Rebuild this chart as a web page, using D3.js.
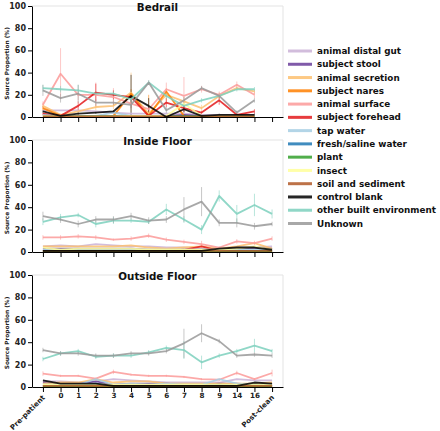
<!DOCTYPE html>
<html><head><meta charset="utf-8">
<script src="https://cdn.jsdelivr.net/npm/d3@7"></script>
<style>body{margin:0;background:#fff}svg{display:block}text{font-family:"DejaVu Sans",sans-serif;font-weight:bold}</style>
</head><body>
<script>
const categories = ["Pre-patient","0","1","2","3","4","5","6","7","8","9","14","16","Post-clean"];
const seriesNames = ["animal distal gut","subject stool","animal secretion","subject nares","animal surface","subject forehead","tap water","fresh/saline water","plant","insect","soil and sediment","control blank","other built environment","Unknown"];
const seriesColors = ["#cab2d6","#6a3d9a","#fdbf6f","#ff7f00","#fb9a99","#e31a1c","#a6cee3","#1f78b4","#33a02c","#ffff99","#b15928","#000000","#7dd0bd","#999999"];
const panelTitles = ["Bedrail","Inside Floor","Outside Floor"];
const yTicks = [0,20,40,60,80,100];

const bedrailValues = [
  [6,6,6,5,4,3,3,3,3,2,2,2,2],
  [2,1,1,1,1,1,1,1,2,1,1,1,1],
  [10,2,5,9,10,22,3,20,14,8,19,26,23],
  [8,1,1,1,1,21,1,23,1,1,1,1,1],
  [11,39,20,20,18,12,7,25,19,25,20,29,20],
  [3,1,10,22,20,18,1,13,8,4,15,2,5],
  [2,1,1,1,4,1,1,1,1,1,1,1,1],
  [1,1,1,1,1,1,1,1,1,1,1,1,1],
  [0.5,0.5,0.5,0.5,0.5,0.5,0.5,0.5,0.5,0.5,0.5,0.5,0.5],
  [1,0.5,0.5,0.5,0.5,1,1,1,12,1,1,1,1],
  [0.5,0.5,0.5,0.5,0.5,0.5,0.5,0.5,0.5,0.5,0.5,0.5,0.5],
  [5,1,3,4,5,19,10,0,7,1,2,2,2],
  [26,25,24,21,21,16,31,19,10,15,19,25,25],
  [24,17,21,13,13,11,31,6,15,26,19,4,15]
];
const insideValues = [
  [5,6,5,7,6,5,5,4,4,3,3,4,4,5],
  [3,3,3,3,3,3,2,2,2,2,2,3,4,3],
  [5,5,5,5,5,6,4,3,4,5,3,5,8,3],
  [1,1,1,1,1,1,1,1,1,1,1,1,1,1],
  [13,13,14,13,11,12,14.5,11,9,7,4,9.5,8,12],
  [1,1,1,1,1,1,1,1,2,5,1,1,1,1],
  [2,2,2,2,2,2,2,2,2,2,2,2,2,2],
  [1,1,1,1,1,1,1,1,1,1,1,1,1,1],
  [0.5,0.5,0.5,0.5,0.5,0.5,0.5,0.5,0.5,0.5,0.5,0.5,0.5,0.5],
  [4,2,3,3,3,3,2,2,2,2,2,3,5,2],
  [1,1,1,1,1,1,1,1,1,1,1,1,1,1],
  [1,1,1,1,1,1,1,1,1,1,3,4,4,2],
  [27,31,33,25,28,28,27,38,29,20,50,34,42,34],
  [32,29,25,29,29,32,28,29,38,45,26,26,23,25]
];
const outsideValues = [
  [5,5,4,5,7,6,5,4,4,4,4,7,6,6],
  [4,3,3,5,2,3,3,3,2,2,3,3,2,3],
  [3,4,4,7,4,5,5,3,3,3,3,3,3,4],
  [1,1,1,1,1,1,1,1,1,1,1,1,1,1],
  [12,10,10,7.5,13.5,11,10,10,9,7,6.5,12.5,7,12.5],
  [1,1,1,1,1,1,1,1,1,1,1,1,1,1],
  [2,2,2,7,2,3,2,3,2,2,7,3,2,2],
  [1,1,1,3,1,1,1,1,1,1,2,1,2,1],
  [0.5,0.5,0.5,0.5,0.5,0.5,0.5,0.5,0.5,0.5,0.5,0.5,0.5,0.5],
  [2,2,2,2,2,2,2,2,2,2,2,2,2,2],
  [1,1,1,1,1,1,1,1,1,1,1,1,1,1],
  [6,3,3,3,1,1,1,1,1,1,1,1,4,3],
  [25,30,32,27,28,28,31,35,33,22,28,32,37,32],
  [33,30,30,28,28,30,30,32,39,48,41,28,29,28]
];
// error bar half-lengths (null = not drawn)
const bedrailErrors = [
  null,null,
  [2,1,2,3,3,18,2,6,4,3,3,2,2],
  [2,0.5,0.5,0.5,0.5,4,19,0.5,0.5,0.5,0.5,0.5,0.5],
  [3,23,5,11,8,4,2,6,17,3,3,3,3],
  [1,1,4,8,4,3,1,4,3,1,4,1,2],
  null,null,null,null,null,
  [1,1,1,1,1,19,7,1,3,1,1,1,1],
  [3,3,5,2,2,2,2,3,2,2,2,2,2],
  [5,4,8,3,3,3,2,3,3,2,2,2,2]
];
const insideErrors = [
  null,null,null,null,
  [2,2,2,2,1,2,2,2,2,3,1,2,2,2],
  null,null,null,null,null,null,null,
  [3,3,2,3,3,2,2,5,3,4,5,8,10,4],
  [4,3,3,3,3,3,3,3,11,13,3,4,3,2]
];
const outsideErrors = [
  null,null,null,null,
  [2,1,1,1,2,1,1,1,1,1,1,2,1,3],
  null,null,null,null,null,null,null,
  [2,2,2,2,2,2,2,2,8,6,2,2,6,2],
  [2,2,2,2,2,2,2,2,13,8,2,2,2,2]
];

const panelValues = [bedrailValues, insideValues, outsideValues];
const panelErrors = [bedrailErrors, insideErrors, outsideErrors];
const panelBoxes = [[6,117],[140,252],[275,387]];
const left = 32, right = 283;

const svg = d3.select("body").append("svg").attr("width",440).attr("height",431);
const x = d3.scalePoint().domain(categories).range([left,right]).padding(0.62);

panelValues.forEach((vals, p) => {
  const [top, bottom] = panelBoxes[p];
  const y = d3.scaleLinear().domain([0,100]).range([bottom, top]);
  const g = svg.append("g");
  g.append("line").attr("x1",left).attr("x2",right).attr("y1",top).attr("y2",top).attr("stroke","#e3e3e3").attr("stroke-width",1);
  g.append("line").attr("x1",right).attr("x2",right).attr("y1",top).attr("y2",bottom).attr("stroke","#e3e3e3").attr("stroke-width",1);

  const errs = panelErrors[p];
  vals.forEach((series, s) => {
    const pts = series.map((v,i)=>({c:categories[i], v, e: errs[s] ? errs[s][i] : null}));
    g.append("g").selectAll("line").data(pts.filter(d=>d.e!=null)).join("line")
      .attr("x1",d=>x(d.c)).attr("x2",d=>x(d.c))
      .attr("y1",d=>y(Math.max(0,d.v-d.e))).attr("y2",d=>y(Math.min(100,d.v+d.e)))
      .attr("stroke",seriesColors[s]).attr("stroke-opacity",0.55).attr("stroke-width",1);
  });
  vals.forEach((series, s) => {
    const pts = series.map((v,i)=>({c:categories[i], v}));
    g.append("path").datum(pts)
      .attr("d", d3.line().x(d=>x(d.c)).y(d=>y(d.v)))
      .attr("fill","none").attr("stroke",seriesColors[s]).attr("stroke-width",1.8)
      .attr("stroke-opacity",0.85).attr("stroke-linejoin","round");
  });

  const ya = g.append("g").attr("transform",`translate(${left},0)`)
    .call(d3.axisLeft(y).tickValues(yTicks).tickSize(4).tickSizeOuter(0).tickPadding(2));
  ya.selectAll("text").attr("font-size",8).attr("font-family","DejaVu Sans").attr("font-weight","bold").attr("fill","#222");
  const xa = g.append("g").attr("transform",`translate(0,${bottom})`)
    .call(d3.axisBottom(x).tickSize(5).tickSizeOuter(0).tickPadding(0.5));
  xa.selectAll("text").attr("font-size",7.2).attr("font-family","DejaVu Sans").attr("font-weight","bold").attr("fill","#222");
  if (p < 2) {
    xa.selectAll("text").remove();
  } else {
    xa.selectAll(".tick text").filter(d => d === "Pre-patient" || d === "Post-clean")
      .attr("text-anchor","end").attr("dy",null).attr("y",0)
      .attr("transform","translate(2,11) rotate(-45)");
  }
  g.append("text").attr("x",(left+right)/2).attr("y",top+4.5).attr("text-anchor","middle")
    .attr("font-size",10.3).attr("fill","#111").text(panelTitles[p]);
  g.append("text").attr("transform",`translate(9,${(top+bottom)/2+2}) rotate(-90)`)
    .attr("text-anchor","middle").attr("font-size",5.8).attr("fill","#222").text("Source Proportion (%)");
});

const legend = svg.append("g");
const ly = d3.scaleLinear().domain([0, seriesNames.length-1]).range([51, 223.5]);
seriesNames.forEach((n,i)=>{
  legend.append("line").attr("x1",288).attr("x2",312).attr("y1",ly(i)).attr("y2",ly(i))
    .attr("stroke",seriesColors[i]).attr("stroke-width",3).attr("stroke-opacity",0.85);
  legend.append("text").attr("x",317).attr("y",ly(i)).attr("dy","0.35em")
    .attr("font-size",8.8).attr("fill","#111").text(n);
});
</script>
</body></html>
